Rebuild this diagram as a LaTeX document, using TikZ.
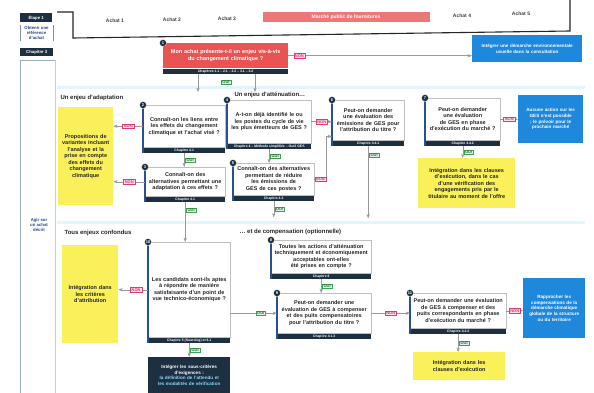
\documentclass[tikz,border=0pt]{standalone}
\usepackage{fontspec}
\setmainfont{Liberation Sans}
\usetikzlibrary{arrows.meta,positioning,calc}
\definecolor{navy}{RGB}{28,48,66}
\definecolor{accentblue}{RGB}{40,80,150}
\definecolor{alertred}{RGB}{232,84,84}
\definecolor{infoblue}{RGB}{30,136,220}
\definecolor{noteyellow}{RGB}{250,240,90}
\definecolor{nonpink}{RGB}{225,60,110}
\definecolor{ouigreen}{RGB}{60,160,80}
\definecolor{titleblue}{RGB}{40,70,140}
\hyphenpenalty=10000
\exhyphenpenalty=10000
\newcommand{\qfont}{\bfseries\fontsize{5.5}{6.5}\selectfont}
\newcommand{\infofont}{\bfseries\fontsize{4.6}{5.6}\selectfont}
\newcommand{\chapfont}{\bfseries\fontsize{3.4}{4}\selectfont}
\newcommand{\sidefont}{\bfseries\fontsize{4.3}{5.2}\selectfont}
\newcommand{\numfont}{\bfseries\fontsize{4}{4}\selectfont}
\newcommand{\lblfont}{\bfseries\fontsize{4}{4.5}\selectfont}
\newcommand{\headfont}{\bfseries\fontsize{6}{7}\selectfont}
\newcommand{\actfont}{\bfseries\fontsize{5}{6}\selectfont}
\tikzset{
  qbox/.style={draw=black!25, fill=white, align=center, inner sep=2pt, font=\qfont, text=black!85, anchor=north west},
  chapbar/.style={fill=navy, text=white, font=\chapfont, inner sep=0pt, minimum height=5.5pt, anchor=north west},
  numdot/.style={circle, fill=navy, draw=white, line width=0.3pt, text=white, font=\numfont, inner sep=0pt, minimum size=7pt},
  accent/.style={draw=accentblue, line width=1.2pt},
  note/.style={fill=noteyellow, align=center, font=\qfont, text=black!85, anchor=north west, inner sep=3pt},
  infobox/.style={fill=infoblue, text=white, align=center, font=\infofont, anchor=north west, inner sep=3pt},
  darktag/.style={fill=navy, text=white, font=\sidefont, inner sep=0pt, anchor=north west},
  nonlbl/.style={draw=nonpink, fill=nonpink!15, text=nonpink, font=\lblfont, inner xsep=1.2pt, inner ysep=0.8pt},
  ouilbl/.style={draw=ouigreen, fill=ouigreen!15, text=ouigreen!70!black, font=\lblfont, inner xsep=1.2pt, inner ysep=0.8pt},
  link/.style={draw=black!40, line width=0.4pt, -{Stealth[length=1.5mm]}},
  band/.style={draw=cyan!12, line width=3pt},
  heading/.style={font=\headfont, anchor=west, text=black!85},
  actlbl/.style={font=\actfont, text=black!75},
}
% question box: name, number, x, y (top left), width, height, text width, text, chapter
\newcommand{\question}[9]{%
  \node[qbox, minimum width=#5, minimum height=#6, text width=#7] (#1) at (#3,#4) {#8};
  \node[chapbar, minimum width=#5] (#1c) at (#1.south west) {#9};
  \draw[accent] (#1.north west) -- (#1c.south west);
  \node[numdot] (#1n) at (#1.north west) {#2};
}

\begin{document}
\begin{tikzpicture}[x=1pt,y=-1pt]
  \fill[white] (0,0) rectangle (594,393);
  \useasboundingbox (0,0) rectangle (594,393);

  % top bar with purchases
  \draw[line width=1.1pt, black!85] (57,12) -- (73,12) -- (73,38) -- (570,31) -- (570,0);
  \node[actlbl] (a1) at (115,21) {Achat 1};
  \node[actlbl] (a2) at (172,20) {Achat 2};
  \node[actlbl] (a3) at (227,19) {Achat 3};
  \node[fill=alertred!80, text=white, font=\actfont, minimum width=167, minimum height=10, inner sep=0pt] (act) at (346,17) {Marché public de fournitures};
  \node[actlbl] (a4) at (462,16) {Achat 4};
  \node[actlbl] (a5) at (521,14) {Achat 5};

  % left panel
  \node[darktag, minimum width=32, minimum height=9] (step) at (20,13) {Étape 1};
  \node[font=\sidefont, text=titleblue, align=center, minimum width=33, inner sep=1pt] (ref) at (36.5,33) {Obtenir une\\référence\\d'achat};
  \draw[titleblue!60, line width=0.6pt] (ref.north west) -- (ref.south west);
  \draw[titleblue!60, line width=0.6pt] (ref.north east) -- (ref.south east);
  \node[darktag, minimum width=33, minimum height=8] (ch3) at (20,48) {Chapitre 3};
  \draw[titleblue!45, line width=0.6pt] (20,393) |- (55,60);
  \draw[black!20, line width=0.6pt] (55,60) -- (55,393);
  \node[font=\sidefont, text=titleblue, align=center] (agir) at (39,225) {Agir sur\\un achat\\décrit};

  % section bands and headings
  \draw[band] (57,88) -- (585,88);
  \draw[band] (57,222) -- (585,222);
  \node[heading] (hadapt) at (57,98) {Un enjeu d'adaptation};
  \node[heading] (hatten) at (231,95) {Un enjeu d'atténuation…};
  \node[heading] (hall) at (61,233) {Tous enjeux confondus};
  \node[heading] (hcomp) at (236,232) {… et de compensation (optionnelle)};

  % question boxes
  \node[qbox, fill=alertred, text=white, draw=none, minimum width=125, minimum height=25, text width=119] (n1) at (163,43) {Mon achat présente-t-il un enjeu vis-à-vis\\du changement climatique ?};
  \node[chapbar, minimum width=125] (n1c) at (n1.south west) {Chapitres 1.1 -- 2.1 -- 2.2 -- 3.1 -- 3.2};
  \node[numdot] (n1n) at (n1.north west) {1};
  \question{n2}{2}{143}{105}{82}{42}{76}{Connaît-on les liens entre les effets du changement climatique et l'achat visé ?}{Chapitre 4.1}
  \question{n3}{3}{145}{167}{80}{29}{76}{Connaît-on des alternatives permettant une adaptation à ces effets ?}{Chapitre 4.1}
  \question{n4}{4}{227}{100}{84}{43}{78}{A-t-on déjà identifié le ou les postes du cycle de vie les plus émetteurs de GES ?}{Chapitre 4 -- Méthode simplifiée -- Outil GES}
  \question{n5}{5}{233}{163}{81}{32}{77}{Connaît-on des alternatives permettant de réduire les émissions de GES de ces postes ?}{Chapitre 4.3}
  \question{n6}{6}{332}{100}{72}{40}{66}{Peut-on demander une évaluation des émissions de GES pour l'attribution du titre ?}{Chapitre 4.4.1}
  \question{n7}{7}{425}{98}{75}{42}{69}{Peut-on demander une évaluation de GES en phase d'exécution du marché ?}{Chapitre 4.4.2}
  \question{n8}{10}{148}{242}{82}{95}{76}{Les candidats sont-ils aptes à répondre de manière satisfaisante d'un point de vue technico-économique ?}{Chapitre 5 (Sourcing) et 6.1}
  \question{n9}{8}{271}{240}{100}{33}{95}{Toutes les actions d'atténuation techniquement et économiquement acceptables ont-elles été prises en compte ?}{Chapitre 6}
  \question{n10}{9}{277}{293}{94}{40}{89}{Peut-on demander une évaluation de GES à compenser et des puits compensatoires pour l'attribution du titre ?}{Chapitre 4.1.3}
  \question{n11}{11}{410}{293}{96}{35}{92}{Peut-on demander une évaluation de GES à compenser et des puits correspondants en phase d'exécution du marché ?}{Chapitre 4.2.3}

  % outcomes
  \node[note, minimum width=55, minimum height=98, text width=49] (y1) at (58,107) {Propositions de variantes incluant l'analyse et la prise en compte des effets du changement climatique};
  \node[note, minimum width=56, minimum height=98, text width=50] (y2) at (62,245) {Intégration dans les critères d'attribution};
  \node[note, minimum width=97, minimum height=50, text width=91] (y3) at (418,158) {Intégration dans les clauses d'exécution, dans le cas d'une vérification des engagements pris par le titulaire au moment de l'offre};
  \node[note, minimum width=92, minimum height=28, text width=86] (y4) at (413,352) {Intégration dans les clauses d'exécution};
  \node[infobox, minimum width=110, minimum height=27, text width=104] (bA) at (472,35) {Intégrer une démarche environnementale usuelle dans la consultation};
  \node[infobox, minimum width=65, minimum height=48, text width=59] (bB) at (518,95) {Aucune action sur les GES n'est possible ; le prévoir pour le prochain marché};
  \node[infobox, minimum width=62, minimum height=60, text width=56] (bC) at (523,278) {Rapprocher les compensations de la démarche climatique globale de la structure ou du territoire};
  \node[infobox, fill=navy, minimum width=82, minimum height=36, text width=76] (dk) at (148,357) {Intégrer les sous-critères\\d'exigences :\\{\color{cyan!45}la définition de l'attendu et les modalités de vérification}};

  % connectors
  \draw[link] (n1.east) -- node[nonlbl, pos=0.06] (no1) {NON} (n1.east -| bA.west);
  \node[ouilbl] (yes1) at (226,82) {OUI};
  \coordinate (toadapt) at (198,92);
  \coordinate (toatten) at (255,92);
  \draw[link] (n1c.south -| toadapt) -- (toadapt);
  \draw[link] (n1c.south -| toatten) -- (toatten);
  \draw[link] (n2.west) -- node[nonlbl] (no2) {NON} (n2.west -| y1.east);
  \draw[link] (n2c.south) -- node[ouilbl, right=1pt] (yes2) {OUI} (n2c.south |- n3.north);
  \draw[link] (n3.west) -- node[nonlbl] (no3) {NON} (n3.west -| y1.east);
  \draw[link] (n3c.south) -- node[ouilbl, pos=0.2, right=1pt] (yes3) {OUI} (n3c.south |- n8.north);
  \draw[link] (n4.east) -- node[nonlbl] (no4) {NON} (n4.east -| n6.west);
  \draw[link] (n4c.south) -- node[ouilbl, right=1pt] (yes4) {OUI} (n4c.south |- n5.north);
  \draw[link] (n5.east) -- node[nonlbl] (no5) {NON} ++(12,0) |- ($(n6.south west)+(0,-4)$);
  \coordinate (tocomp) at ($(n5c.south)+(0,16)$);
  \draw[link] (n5c.south) -- node[ouilbl, right=1pt] (yes5) {OUI} (tocomp);
  \coordinate (toattrib) at ($(n6c.south)+(0,72)$);
  \draw[link] (n6c.south) -- node[ouilbl, pos=0.12, right=1pt] (yes6) {OUI} (toattrib);
  \draw[link] (n7.east) -- node[nonlbl] (no7) {NON} (n7.east -| bB.west);
  \draw[link] (n7c.south) -- node[ouilbl, right=1pt] (yes7) {OUI} (n7c.south |- y3.north);
  \draw[link] (n8.west) -- node[nonlbl, pos=0.4] (no8) {NON} (n8.west -| y2.east);
  \draw[link] (n8c.south) -- node[ouilbl, right=1pt] (yes8) {OUI} (n8c.south |- dk.north);
  \draw[link] (n10.west -| n8.east) -- node[ouilbl, pos=0.65] (yes8b) {OUI} (n10.west);
  \draw[link] (n9c.south) -- node[ouilbl, right=1pt] (yes9) {OUI} (n9c.south |- n10.north);
  \draw[link] (n10.east) -- node[nonlbl] (no10) {NON} (n10.east -| n11.west);
  \draw[link] (n11.east) -- node[nonlbl] (no11) {NON} (n11.east -| bC.west);
  \draw[link] (n11c.south) -- node[ouilbl, right=1pt] (yes11) {OUI} (n11c.south |- y4.north);
\end{tikzpicture}
\end{document}
